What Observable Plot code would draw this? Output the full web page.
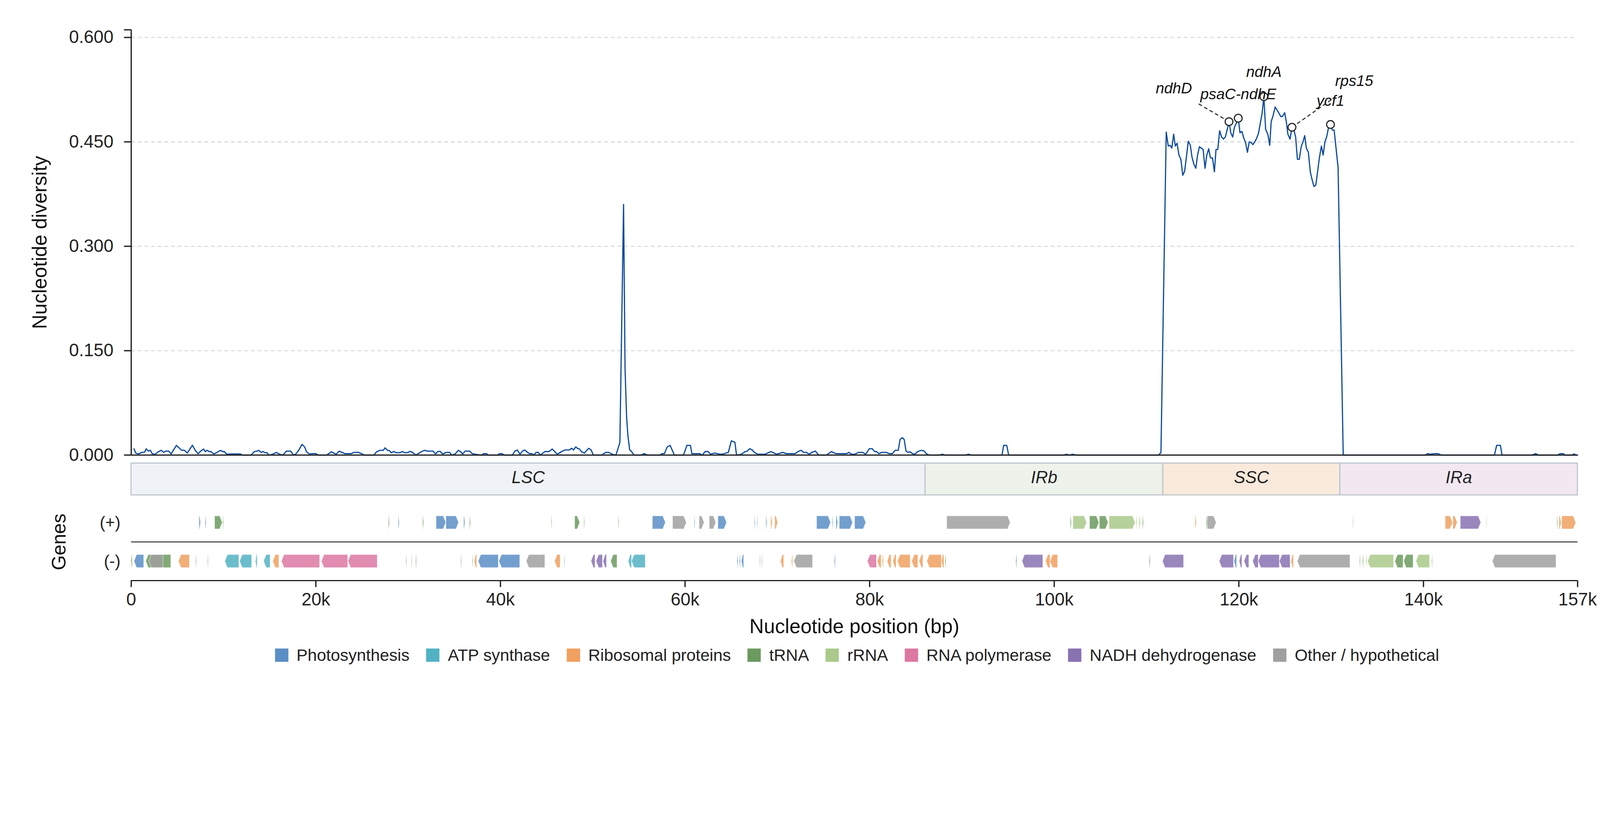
<!DOCTYPE html>
<html>
<head>
<meta charset="utf-8">
<script src="https://cdn.jsdelivr.net/npm/d3@7"></script>
<script src="https://cdn.jsdelivr.net/npm/@observablehq/plot@0.6"></script>
<style>
  html, body { margin: 0; padding: 0; background: #ffffff; overflow: hidden; }
  #page { width: 4322px; height: 2102px; transform-origin: 0 0; background: #ffffff; }
  #chart { width: 4322px; }
  #chart svg { display: block; max-width: none !important; }
  #legend { display: flex; justify-content: center; padding: 0 61px 0 414px; margin-top: 6px; }
  #legend > div { font-size: 45px !important; font-family: 'Liberation Sans', Arial, sans-serif !important; color: #222 !important; }
</style>
</head>
<body>
<div id="page">
<div id="chart"></div>
<div id="legend"></div>
</div>
<script>
// ---------------- DATA ----------------
const genomeLength = 156700;

const categoryKeys  = ["photo", "atp", "ribo", "trna", "rrna", "rpo", "ndh", "other"];
const categoryNames = ["Photosynthesis", "ATP synthase", "Ribosomal proteins", "tRNA", "rRNA", "RNA polymerase", "NADH dehydrogenase", "Other / hypothetical"];
const categoryColors = ["#5a8ec6", "#52b2c3", "#f0a05f", "#6b9a5e", "#aac98a", "#dc78a2", "#8872b2", "#a0a0a0"];

const regionNames  = ["LSC", "IRb", "SSC", "IRa"];
const regionStarts = [0, 86020, 111780, 130960];
const regionEnds   = [86020, 111780, 130960, 156700];
const regionColors = ["#eff3f7", "#edf2ea", "#faeadc", "#f2e8f2"];

const yTickValues = [0, 0.15, 0.3, 0.45, 0.6];
const yTop = 0.611;
const xTickValues = [0, 20000, 40000, 60000, 80000, 100000, 120000, 140000, 156700];

// sliding-window nucleotide diversity: [position (bp), Pi]
const lscDiversity = [
[300,.009],[480,.003],[790,.0016],[1170,.004],[1430,.004],[1630,.009],[1860,.0057],[2070,.007],[2270,.002],[2580,.001],[2890,.0044],[3250,.007],[3500,.0039],[3730,.0057],[4070,.0057],[4320,.0016],[4890,.014],[5140,.011],[5450,.007],[5760,.007],[6070,.003],[6630,.0142],[6940,.0069],[7250,.002],[7530,.0057],[7840,.0087],[8020,.0051],[8220,.0069],[8430,.0051],[8630,.0051],[8940,.0016],[9300,.0039],[9660,.0069],[9890,.0051],[10090,.0051],[10350,.0012],[10790,.0016],[11810,.0016],[12070,0],[12960,0],[13350,.0051],[13610,.0057],[13810,.0069],[14070,.0039],[14270,.0053],[14480,.0035],[14710,.0035],[14890,0],[15400,.0016],[15710,.0039],[16090,.0012],[16430,0],[16810,.0057],[17270,.0057],[17580,0],[17840,.0016],[18170,.0074],[18500,.0154],[18780,.0119],[18990,.0048],[19300,.0016],[19630,.0021],[20020,.0021],[20270,0],[21170,0],[21680,.0048],[22200,.0012],[22530,.0057],[22840,.0039],[23140,.0021],[23860,.0021],[24120,.0039],[24630,.0039],[24940,.0021],[25270,0],[26300,0],[26550,.0044],[26940,.0069],[27320,.0069],[27500,.0105],[27760,.0069],[27960,.0066],[28170,.0034],[28420,.0051],[28730,.0035],[29120,.0035],[29370,.0051],[29630,.0035],[29890,.0035],[30220,.0053],[30480,.0039],[30840,0],[31300,.0039],[31760,.0069],[32120,.0057],[32710,.0057],[32960,.0016],[33220,.0053],[33480,.0053],[33730,.0016],[34120,.0039],[34500,.0039],[34710,0],[35090,.0016],[35450,.0069],[35660,.0051],[35910,.0016],[36170,.0057],[36680,.0057],[36940,.0021],[37250,.0012],[37960,0],[38170,.0021],[38480,.0021],[38680,0],[39760,0],
[39810,.0016],[40120,.0021],[40450,0],[41300,0],[41560,.0057],[41820,.0074],[42120,.0012],[42380,.0057],[42640,.0074],[42890,.0044],[43150,.0021],[43410,.0021],[43610,0],[43870,.0039],[44120,.0039],[44300,0],[44820,.0051],[45250,.0051],[45610,.0087],[45840,.0057],[46170,.0012],[46530,.0044],[46990,.0074],[47460,.0074],[47710,.0098],[47920,.0074],[48170,.0119],[48380,.0092],[48530,.0092],[48790,.0048],[49100,.003],[49560,.0098],[49820,.0074],[50070,0],[50970,0],[51400,.0039],[51740,.0039],[52120,.0012],[52510,0],[52940,.018],[53340,.360],[53500,.124],[53670,.054],[53810,.028],[54000,.0074],[54170,.0057],[54480,0],[55250,0],[55580,.0021],[55920,0],[57250,0],[57510,.0021],[57760,.0021],[58070,.0119],[58380,.014],[58660,.0057],[58840,0],[59810,0],[59940,.0039],[60200,.014],[60580,.014],[60740,.0021],[61610,.0021],[61870,0],[62170,.0051],[62510,.0051],[62760,.0012],[63200,.003],[63530,.0021],[63790,.0012],[64170,.0016],[64430,.003],[64690,.0039],[65020,.0205],[65400,.0185],[65580,0],[66100,.0012],[66480,.0048],[66740,.0057],[66990,.0092],[67250,.0078],[67510,.0039],[67890,.0012],[68660,.0012],[69300,.0051],[69940,.0012],[70580,.0039],[70970,.0021],[71920,.0021],[72250,.0051],[72580,.0069],[72840,.0039],[73150,.0039],[73460,.0012],[73710,.0039],[74120,.0057],[74480,0],[75330,0],[75840,.0051],[76350,.0021],[77500,.0021],[77760,.0039],[78020,.0012],[78400,.0012],[78790,.0039],[79250,.0039],[79560,.0012],
[79970,.0092],[80280,.0092],[80540,.0051],[80740,.0051],[81000,.0021],[81310,.0039],[81820,.0039],[82120,.0021],[82460,.0021],[82760,.0069],[83100,.0069],[83300,.0225],[83530,.0252],[83740,.0225],[83940,.0057],[84170,.0039],[84380,.0048],[84630,.0021],[84890,.0012],[85200,.0051],[85610,.0069],[85920,.0057]
];
const irbDiversity = [
[86130,.0021],[86440,0],[87540,0],[87880,.0012],[88190,0],[90370,0],[90700,.0012],[91060,0],[94340,0],[94520,.014],[94850,.014],[95060,0],[101000,0],[101310,.0012],[101650,0],[101980,.0012],[102420,0],[111323,0],[111560,.004]
];
const sscDiversity = [
[112131,.464],[112353,.444],[112560,.445],[112734,.441],[112940,.461],[113115,.444],[113305,.448],[113511,.431],[113717,.425],[113924,.402],[114130,.408],[114526,.451],[114748,.445],[114923,.428],[115129,.418],[115335,.412],[115525,.431],[115732,.443],[116128,.439],[116334,.412],[116525,.431],[116731,.440],[116921,.427],[117143,.427],[117349,.407],[117524,.439],[117714,.439],[117920,.466],[118126,.457],[118333,.454],[118539,.457],[118745,.468],[118935,.479],[119126,.463],[119332,.457],[119522,.471],[119728,.477],[119934,.484],[120125,.463],[120331,.465],[120521,.456],[120727,.449],[120934,.435],[121124,.450],[121330,.449],[121520,.446],[121727,.450],[121917,.455],[122123,.462],[122313,.476],[122520,.491],[122710,.515],[122900,.468],[123138,.461],[123344,.445],[123503,.479],[123693,.487],[123931,.500],[124169,.495],[124566,.486],[124756,.487],[124962,.492],[125152,.478],[125311,.461],[125549,.454],[125755,.471],[125945,.468],[126152,.457],[126342,.425],[126548,.425],[126754,.443],[126945,.450],[127135,.459],[127309,.441],[127531,.435],[127738,.407],[127928,.396],[128134,.386],[128340,.388],[128531,.407],[128721,.427],[128943,.444],[129133,.431],[129324,.450],[129530,.458],[129720,.471],[129926,.475],[130132,.467],[130323,.467],[130529,.441],[130751,.413]
];
const iraDiversity = [
[131306,0],[140190,0],[140443,.0021],[140774,.0012],[141164,.0021],[141554,.0021],[141944,0],[147693,0],[147927,.014],[148337,.014],[148512,0],[151786,0],[152137,.0021],[152468,0],[154515,0],[154807,.0021],[155138,.0021],[155333,0],[156113,0],[156308,.0016],[156560,0],[156700,0]
];

// highlighted genes (positions of annotated windows)
const highlightGenes     = ["ndhD", "psaC-ndhE", "ndhA", "rps15", "ycf1"];
const highlightPositions = [118935, 119934, 122710, 125755, 129926];

// genes: [start, end, category]
const plusGenes = [
[7365,7530,"photo"],[8030,8140,"photo"],[9050,9880,"trna"],[9930,10020,"trna"],[27890,28000,"trna"],[28940,29050,"photo"],[31590,31700,"trna"],[33050,34100,"photo"],[34110,35480,"photo"],[36035,36170,"photo"],[36670,36780,"trna"],[45520,45600,"trna"],[48060,48610,"trna"],[49050,49140,"trna"],[52780,52870,"trna"],[56480,57890,"photo"],[58670,60160,"other"],[61010,61100,"photo"],[61540,62090,"other"],[62640,63360,"other"],[63580,64520,"photo"],[67530,67620,"photo"],[67810,67890,"photo"],[68780,68890,"photo"],[69300,69470,"ribo"],[69740,70050,"ribo"],[74270,75790,"photo"],[75980,76070,"photo"],[76370,76560,"photo"],[76730,78170,"photo"],[78390,79600,"photo"],[88370,95250,"other"],[101760,101880,"trna"],[102040,103530,"rrna"],[103840,104860,"trna"],[104910,105850,"trna"],[105960,108780,"rrna"],[108890,109000,"rrna"],[109220,109360,"rrna"],[109580,109690,"trna"],[115270,115410,"ribo"],[116490,116620,"trna"],[116600,117560,"other"],[132360,132430,"trna"],[142370,143170,"ribo"],[143210,143680,"ribo"],[144010,146230,"ndh"],[146820,146880,"trna"],[154480,154570,"trna"],[154710,154940,"ribo"],[155000,156520,"ribo"]
];
const minusGenes = [
[0,125,"trna"],[320,1370,"photo"],[1590,4300,"trna"],[1920,3470,"other"],[5130,6320,"ribo"],[6980,7060,"trna"],[8280,8360,"trna"],[10160,11680,"atp"],[11760,13060,"atp"],[13470,13660,"atp"],[14360,15070,"atp"],[15350,16010,"ribo"],[16290,20430,"rpo"],[20620,23470,"rpo"],[23500,26670,"rpo"],[29770,29850,"photo"],[30350,30430,"trna"],[30790,30860,"trna"],[30880,30950,"trna"],[35700,35790,"trna"],[36950,37030,"trna"],[37170,37440,"ribo"],[37610,39790,"photo"],[39850,42110,"photo"],[42810,44830,"other"],[45880,46490,"ribo"],[46900,46980,"trna"],[49830,50270,"ndh"],[50380,51070,"ndh"],[51130,51510,"ndh"],[51950,52650,"trna"],[53860,54220,"atp"],[54220,55710,"atp"],[65650,65760,"photo"],[65900,66010,"photo"],[66120,66370,"photo"],[68090,68170,"trna"],[68310,68390,"trna"],[70350,70710,"ribo"],[71540,71680,"ribo"],[71810,73830,"other"],[76180,76290,"photo"],[79770,80760,"rpo"],[80850,81260,"ribo"],[81370,81510,"ribo"],[81920,82340,"ribo"],[82530,82890,"ribo"],[83030,84410,"ribo"],[84570,85240,"ribo"],[85380,85790,"ribo"],[86210,87790,"ribo"],[87790,88070,"ribo"],[88180,88290,"trna"],[95850,95960,"trna"],[96520,98780,"ndh"],[99060,99560,"ribo"],[99560,100380,"ribo"],[110300,110410,"trna"],[111740,114030,"ndh"],[117890,119440,"ndh"],[119500,119770,"photo"],[120050,120350,"ndh"],[120570,121100,"ndh"],[121510,122120,"ndh"],[122120,124410,"ndh"],[124410,125570,"ndh"],[125660,125930,"ribo"],[126350,132060,"other"],[133080,133170,"trna"],[133410,133510,"trna"],[133780,133890,"rrna"],[133970,136780,"rrna"],[136920,137810,"trna"],[137870,138900,"trna"],[139200,140680,"rrna"],[140910,140990,"trna"],[147480,154380,"other"]
];

// ---------------- LAYOUT / STYLE ----------------
const W = 4322, H = 2102, ML = 354, MR = 61;
const FONT = "'Liberation Sans', Arial, Helvetica, sans-serif";
const INK = "#222";
const divHeight = 1274, divTop = 80, divBottom = 45, divOverlap = 30;
// label offsets (screen px) for annotations; leader = end point of dashed leader
const annotationLayout = {
  "ndhD":      {dx: -149, dy: -77, leader: [-87, -51]},
  "psaC-ndhE": {dx: 0, dy: -51},
  "ndhA":      {dx: 0, dy: -53},
  "rps15":     {dx: 168, dy: -112, leader: [117, -82]},
  "ycf1":      {dx: 0, dy: -50}
};

// fit the fixed-size page into whatever viewport the browser has
const page = document.getElementById("page");
const fitScale = Math.min(window.innerWidth / W, window.innerHeight / H);
page.style.transform = `scale(${fitScale})`;

// ---------------- BUILD ----------------
const diversity = [...lscDiversity, ...irbDiversity, ...sscDiversity, ...iraDiversity]
  .map(([pos, pi]) => ({pos, pi}));
const piAt = p => diversity.find(d => d.pos === p).pi;
const highlights = highlightGenes.map((gene, i) => ({gene, pos: highlightPositions[i], pi: piAt(highlightPositions[i])}));

const bpPerPx = genomeLength / (W - ML - MR);
const piPerPx = yTop / (divHeight - divTop - divBottom);
const leaders = highlights.filter(h => annotationLayout[h.gene].leader).map(h => {
  const [lx, ly] = annotationLayout[h.gene].leader;
  return {x1: h.pos, y1: h.pi, x2: h.pos + lx * bpPerPx, y2: h.pi - ly * piPerPx};
});

const fmt3 = d3.format(".3f");
const svgStyle = {fontFamily: FONT, background: "white", color: INK, maxWidth: "none"};

const p1 = Plot.plot({
  width: W, height: divHeight,
  marginLeft: ML, marginRight: MR, marginTop: divTop, marginBottom: divBottom,
  style: svgStyle,
  x: {domain: [0, genomeLength], axis: null},
  y: {domain: [0, yTop], axis: null},
  marks: [
    Plot.ruleY(yTickValues.filter(d => d > 0), {stroke: "#d5dbe1", strokeWidth: 3, strokeDasharray: "10,8"}),
    Plot.line(diversity, {x: "pos", y: "pi", stroke: "#0d4a9e", strokeWidth: 3.2, strokeLinejoin: "round"}),
    Plot.ruleY([0], {stroke: INK, strokeWidth: 3.5}),
    Plot.ruleX([0], {y1: 0, y2: yTop, stroke: INK, strokeWidth: 3.5}),
    Plot.axisY({ticks: [...yTickValues, yTop], tickFormat: d => d === yTop ? "" : fmt3(d),
      tickSize: 19, tickPadding: 29, fontSize: 48, strokeWidth: 3.5, label: null}),
    Plot.link(leaders, {x1: "x1", y1: "y1", x2: "x2", y2: "y2", stroke: "#333", strokeWidth: 3, strokeDasharray: "10,7"}),
    Plot.dot(highlights, {x: "pos", y: "pi", r: 10.5, fill: "white", stroke: INK, strokeWidth: 3}),
    ...highlights.map(h => Plot.text([h], {x: "pos", y: "pi", text: "gene",
      dx: annotationLayout[h.gene].dx, dy: annotationLayout[h.gene].dy,
      fontStyle: "italic", fontSize: 41, fill: "#111", textAnchor: "middle", lineAnchor: "bottom"})),
    Plot.text(["Nucleotide diversity"], {text: d => d, frameAnchor: "left", dx: -246, rotate: -90,
      fontSize: 54, fill: "#111", textAnchor: "middle", lineAnchor: "middle"})
  ]
});

const regions = regionNames.map((name, i) => ({name, start: regionStarts[i], end: regionEnds[i]}));
const p2 = Plot.plot({
  width: W, height: 115,
  marginLeft: ML, marginRight: MR, marginTop: 7, marginBottom: 22,
  style: {...svgStyle, background: "transparent", marginTop: `-${divOverlap}px`, position: "relative"},
  x: {domain: [0, genomeLength], axis: null},
  color: {domain: regionNames, range: regionColors},
  marks: [
    Plot.rect(regions, {x1: "start", x2: "end", fill: "name", stroke: "#bcc5cd", strokeWidth: 3}),
    Plot.text(regions, {x: d => (d.start + d.end) / 2, text: "name", frameAnchor: "middle",
      fontStyle: "italic", fontSize: 46, fill: INK, dy: -4})
  ]
});

const geneHalf = 0.169, tipBp = 280;
const genePoints = [];
function addGenes(list, strand, yc) {
  list.forEach(([start, end, key], i) => {
    const id = strand + i;
    const category = categoryNames[categoryKeys.indexOf(key)];
    const tip = Math.min(tipBp, (end - start) * 0.6);
    const pts = strand === "+"
      ? [[start, yc - geneHalf, yc + geneHalf], [end - tip, yc - geneHalf, yc + geneHalf], [end, yc, yc]]
      : [[start, yc, yc], [start + tip, yc - geneHalf, yc + geneHalf], [end, yc - geneHalf, yc + geneHalf]];
    pts.forEach(([x, y1, y2]) => genePoints.push({id, x, y1, y2, category}));
  });
}
addGenes(plusGenes, "+", 1.5);
addGenes(minusGenes, "-", 0.5);

const kfmt = d => d === 0 ? "0" : `${Math.round(d / 1000)}k`;
const p3 = Plot.plot({
  width: W, height: 379,
  marginLeft: ML, marginRight: MR, marginTop: 0, marginBottom: 170,
  style: svgStyle,
  x: {domain: [0, genomeLength], axis: null},
  y: {domain: [0, 2], axis: null},
  color: {domain: categoryNames, range: categoryColors},
  marks: [
    Plot.ruleY([1], {stroke: "#333", strokeWidth: 2.7}),
    Plot.areaY(genePoints, {x: "x", y1: "y1", y2: "y2", z: "id", fill: "category",
      fillOpacity: 0.85, stroke: "white", strokeWidth: 1.5, strokeOpacity: 0.6}),
    Plot.ruleY([0], {stroke: INK, strokeWidth: 3}),
    Plot.axisX({ticks: xTickValues, tickFormat: kfmt, tickSize: 18, tickPadding: 15,
      fontSize: 48, strokeWidth: 3.5, label: null}),
    Plot.axisY({ticks: [1.5, 0.5], tickFormat: d => d > 1 ? "(+)" : "(-)", tickSize: 0,
      tickPadding: 29, fontSize: 45, label: null}),
    Plot.text(["Genes"], {text: d => d, frameAnchor: "left", dx: -194, rotate: -90,
      fontSize: 52, fill: "#111", textAnchor: "middle", lineAnchor: "middle"}),
    Plot.text(["Nucleotide position (bp)"], {text: d => d, frameAnchor: "bottom", dy: 142,
      fontSize: 54, fill: "#111", textAnchor: "middle", lineAnchor: "bottom"})
  ]
});

const chart = document.getElementById("chart");
chart.append(p1, p2, p3);

const legend = Plot.legend({
  color: {domain: categoryNames, range: categoryColors},
  legend: "swatches", swatchSize: 36,
  style: {fontSize: "45px", fontFamily: FONT, color: INK}
});
document.getElementById("legend").append(legend);
</script>
</body>
</html>
